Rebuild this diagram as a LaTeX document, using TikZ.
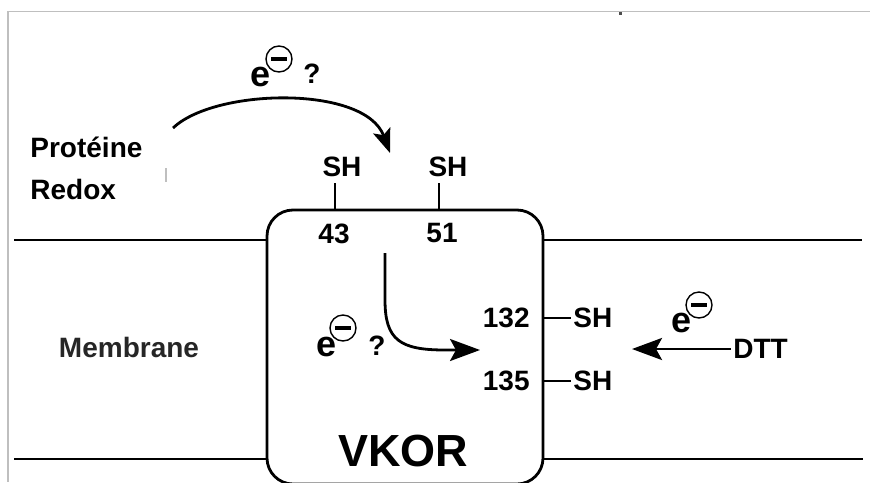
\documentclass[tikz,border=0pt]{standalone}
\usepackage{fontspec}
\setmainfont{Liberation Sans}
\usetikzlibrary{positioning,calc,arrows.meta}
\tikzset{
  lab/.style={font=\fontsize{14}{17}\selectfont\bfseries,inner sep=1pt},
  elec/.style={font=\fontsize{18}{21}\selectfont\bfseries,inner sep=0pt},
  % the circled minus that sits on each e
  ominus/.style={circle,draw,line width=0.7pt,minimum size=13pt,inner sep=0},
  title/.style={font=\fontsize{22.5}{26}\selectfont\bfseries,inner sep=0pt},
  membrane/.style={line width=1pt},
  wall/.style={rectangle,rounded corners=13pt,draw,line width=1.4pt,minimum width=138pt,minimum height=137pt,inner sep=0},
  tick/.style={line width=1.4pt},
  flow/.style={line width=1.4pt,-{Stealth[length=15pt,width=11pt,inset=3pt]}},
  flowsm/.style={line width=1.4pt,-{Stealth[length=12pt,width=9pt,inset=2.5pt]}},
  frame/.style={line width=0.6pt,black!25},
}

\begin{document}
\begin{tikzpicture}[x=0.5pt,y=-0.5pt]
  \useasboundingbox (0,0) rectangle (870,482);
  % scan frame and specks
  \draw[frame] (870,11.5) -- (8,11.5) -- (8,482);
  \fill[black!70] (619,12) rectangle (622,15);
  \draw[frame] (166,168) -- (166,182);
  % the enzyme in the membrane
  \node[wall] (box) at (405,347) {};
  \node[title] (vkor) at (403,451) {VKOR};
  \coordinate (mtl) at (14,240); \coordinate (mtr) at (862,240);
  \coordinate (mbl) at (14,459); \coordinate (mbr) at (863,459);
  \draw[membrane] (mtl) -- (mtl -| box.west);
  \draw[membrane] (box.east |- mtr) -- (mtr);
  \draw[membrane] (mbl) -- (mbl -| box.west);
  \draw[membrane] (box.east |- mbr) -- (mbr);
  \node[lab,text=black!85] (memb) at (129,347) {Membrane};
  % cysteines on the top loop
  \node[lab] (n43) at (334,234) {43};
  \node[lab] (n51) at (442,233) {51};
  \node[lab] (sh43) at (342,167) {SH};
  \node[lab] (sh51) at (448,167) {SH};
  \coordinate (c43) at (335,210); \coordinate (c51) at (439,210);
  \draw[tick] (c43) -- ++(0,-27);
  \draw[tick] (c51) -- ++(0,-27);
  % cysteines of the active site
  \node[lab,anchor=east] (n132) at (532,318) {132};
  \node[lab,anchor=east] (n135) at (532,381) {135};
  \node[lab,anchor=west] (sh132) at (571,318) {SH};
  \node[lab,anchor=west] (sh135) at (571,381) {SH};
  \draw[tick] (box.east |- sh132) -- (sh132.west);
  \draw[tick] (box.east |- sh135) -- (sh135.west);
  % electron donors
  \node[lab,anchor=base west] (prot) at (28,157) {Protéine};
  \node[lab,anchor=base west] (redox) at (28,199) {Redox};
  \node[lab,anchor=west] (dtt) at (731,349) {DTT};
  \node[elec] (e1) at (261,77) {e};
  \node[ominus] (m1) at ($(e1)+(18,-18)$) {\rule{8pt}{2.4pt}};
  \node[lab] (q1) at (312,74) {?};
  \node[elec] (e2) at (327,347) {e};
  \node[ominus] (m2) at ($(e2)+(16,-19)$) {\rule{8pt}{2.4pt}};
  \node[lab] (q2) at (377,346) {?};
  \node[elec] (e3) at (681,323) {e};
  \node[ominus] (m3) at ($(e3)+(18,-18)$) {\rule{8pt}{2.4pt}};
  % electron paths
  \coordinate (src) at (173,128); \coordinate (dst) at (390,153);
  \draw[flowsm] (src) .. controls (215,88) and (365,85) .. (dst);
  \coordinate (inl) at (385,253); \coordinate (inr) at (480,350);
  \draw[flow] (inl) -- (385,300) .. controls (385,340) and (400,350) .. (445,350) -- (inr);
  \draw[flow] (dtt.west) -- ++(-99,0);
\end{tikzpicture}
\end{document}
